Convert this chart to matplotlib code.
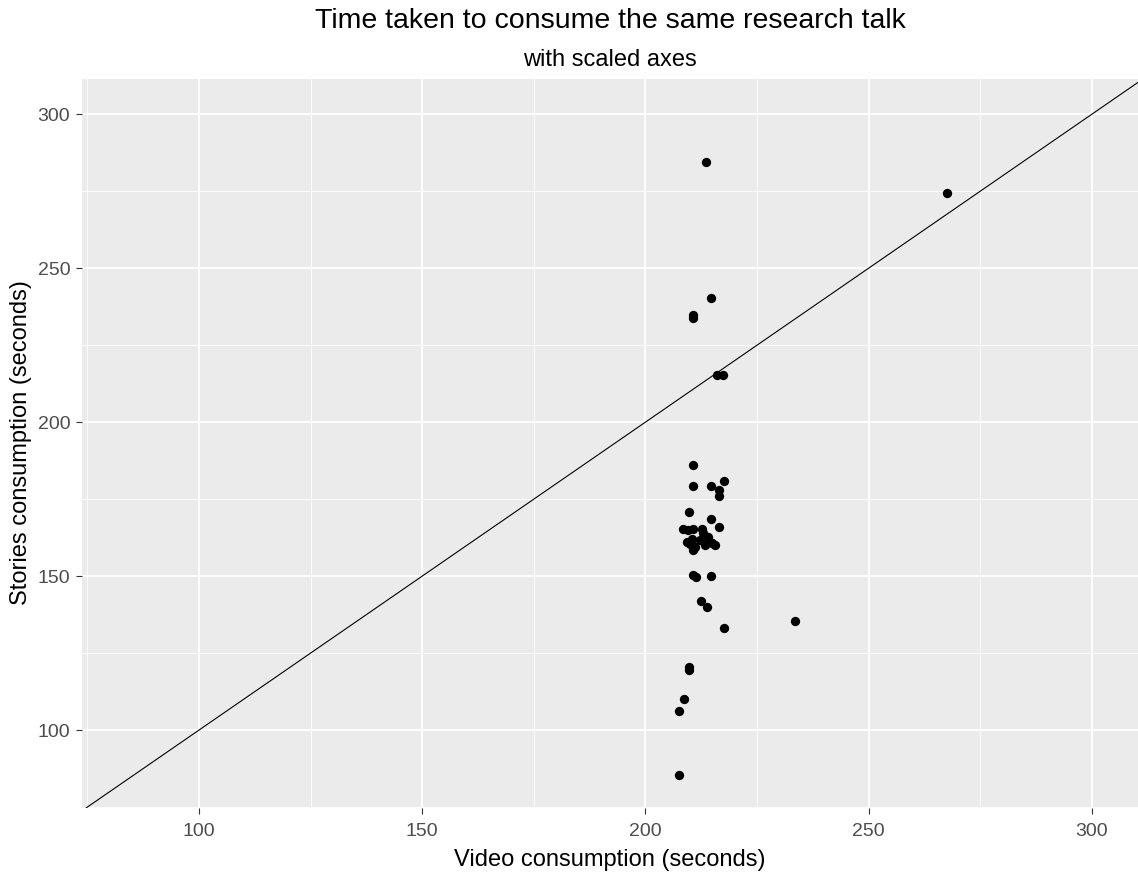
import matplotlib
matplotlib.use("Agg")
import matplotlib.pyplot as plt
import numpy as np

video = [213.5, 267.5, 214.6, 210.6, 210.6, 216.0, 217.3,
         210.6, 210.6, 214.6, 217.6, 216.5, 216.5, 209.7, 214.6, 216.5,
         208.4, 209.5, 210.6, 212.6, 212.9, 209.3, 209.9, 211.0, 210.6,
         212.2, 214.0, 214.4, 213.3, 214.9, 215.5, 210.4,
         210.6, 211.2, 214.6, 212.4, 213.7, 217.6, 233.5,
         209.7, 209.7, 208.6, 207.5, 207.5]
stories = [284.4, 274.4, 240.3, 234.7, 233.8, 215.3, 215.3,
           186.0, 179.2, 179.2, 180.8, 177.9, 176.0, 170.8, 168.5, 165.9,
           165.3, 164.9, 165.3, 165.3, 164.0, 161.1, 160.5, 159.5, 158.6,
           161.8, 162.8, 161.0, 160.1, 160.7, 160.0, 162.2,
           150.3, 149.8, 150.0, 141.9, 140.0, 133.1, 135.4,
           119.5, 120.5, 110.1, 106.2, 85.4]

xlims = (73.8, 310.3)
ylims = (74.7, 311.4)
major = [100, 150, 200, 250, 300]
minor = [75, 125, 175, 225, 275]

W, H = 1138, 875
plt.rcParams['font.family'] = ['Liberation Sans', 'DejaVu Sans']
fig = plt.figure(figsize=(W / 100, H / 100), dpi=100)
L, R, T, B = 82, 1138, 79, 808
ax = fig.add_axes([L / W, 1 - B / H, (R - L) / W, (B - T) / H])
ax.set_facecolor('#EBEBEB')
for s in ax.spines.values():
    s.set_visible(False)

ax.set_xlim(xlims)
ax.set_ylim(ylims)
for v in minor:
    ax.axvline(v, color='white', lw=0.6, zorder=0)
    ax.axhline(v, color='white', lw=0.6, zorder=0)
for v in major:
    ax.axvline(v, color='white', lw=1.3, zorder=0)
    ax.axhline(v, color='white', lw=1.3, zorder=0)

lo, hi = min(xlims[0], ylims[0]), max(xlims[1], ylims[1])
ax.plot([lo, hi], [lo, hi], color='black', lw=0.8, zorder=2)
ax.scatter(video, stories, s=45, color='black', zorder=3, linewidths=0)

ax.set_xticks(major)
ax.set_yticks(major)
ax.set_xticklabels([str(v) for v in major])
ax.set_yticklabels([str(v) for v in major])
ax.tick_params(axis='both', colors='#333333', labelcolor='#4D4D4D',
               labelsize=14, length=4, width=0.8)
ax.tick_params(axis='x', pad=6.5)
ax.tick_params(axis='y', pad=4.5)

cx = (L + R) / 2 / W
fig.text(cx, 1 - 28 / H, 'Time taken to consume the same research talk', ha='center',
         va='baseline', fontsize=20.5)
fig.text(cx, 1 - 66 / H, 'with scaled axes', ha='center', va='baseline', fontsize=17)
fig.text(cx, 1 - 866 / H, 'Video consumption (seconds)', ha='center', va='baseline',
         fontsize=17)
fig.text(21 / W, 1 - 443 / H, 'Stories consumption (seconds)', ha='center', va='center',
         rotation=90, fontsize=17)

fig.savefig('out.png', dpi=100)
